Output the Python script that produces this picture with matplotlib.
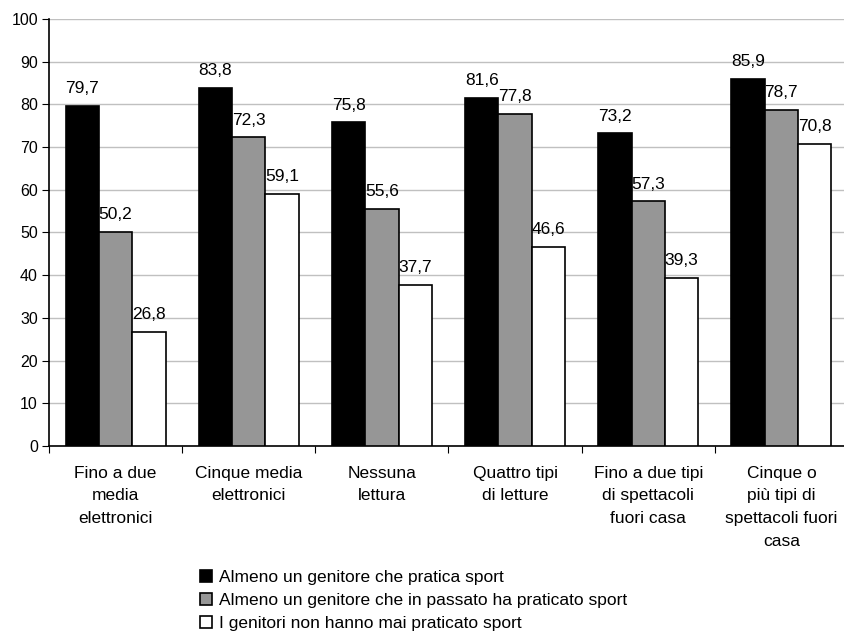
import numpy as np
import matplotlib
matplotlib.use("Agg")
import matplotlib.pyplot as plt

plt.rcParams["font.family"] = ["Liberation Sans", "DejaVu Sans"]

# ── Dati ──────────────────────────────────────────────────────────────────────
categories = [
    "Fino a due\nmedia\nelettronici",
    "Cinque media\nelettronici",
    "Nessuna\nlettura",
    "Quattro tipi\ndi letture",
    "Fino a due tipi\ndi spettacoli\nfuori casa",
    "Cinque o\npiù tipi di\nspettacoli fuori\ncasa",
]
series_names = [
    "Almeno un genitore che pratica sport",
    "Almeno un genitore che in passato ha praticato sport",
    "I genitori non hanno mai praticato sport",
]
pratica = [79.7, 83.8, 75.8, 81.6, 73.2, 85.9]
passato = [50.2, 72.3, 55.6, 77.8, 57.3, 78.7]
mai     = [26.8, 59.1, 37.7, 46.6, 39.3, 70.8]

COLORS = ["#000000", "#969696", "#ffffff"]

W, H = 844, 633
fig = plt.figure(figsize=(W / 100, H / 100), dpi=100)
ax = fig.add_axes([49 / W, (H - 446) / H, (848 - 49) / W, (446 - 19) / H])

x = np.arange(len(categories))
bw = 0.25
for i, (vals, col) in enumerate(zip([pratica, passato, mai], COLORS)):
    pos = x + (i - 1) * bw
    ax.bar(pos, vals, width=bw, color=col, edgecolor="#000000", lw=1.2,
           label=series_names[i], zorder=3)
    for px, v in zip(pos, vals):
        ax.annotate(f"{v:.1f}".replace(".", ","), xy=(px, v),
                    xytext=(0, 7), textcoords="offset points",
                    ha="center", va="bottom", fontsize=12.5)

ax.set_xlim(-0.5, len(categories) - 0.5)
ax.set_ylim(0, 100)
ax.set_yticks(range(0, 101, 10))
ax.tick_params(axis="y", labelsize=11.5, length=5, direction="out", pad=3)
ax.yaxis.grid(True, color="#c0c0c0", lw=1, zorder=0)

# tick sui bordi delle categorie, etichette centrate
ax.set_xticks(np.arange(-0.5, len(categories), 1.0))
ax.set_xticklabels([])
ax.tick_params(axis="x", length=5, direction="out")
for xi, lab in zip(x, categories):
    ax.text(xi, -4.6, lab, ha="center", va="top", fontsize=12.5,
            linespacing=1.65)

for s in ["top", "right"]:
    ax.spines[s].set_visible(False)
ax.spines["left"].set_linewidth(1.2)
ax.spines["bottom"].set_linewidth(1.2)

fig.legend(loc="upper left", bbox_to_anchor=(200 / W, 1 - 570 / H),
           frameon=False, fontsize=12.5, handlelength=0.7, handleheight=0.7,
           handletextpad=0.4, labelspacing=0.45, borderaxespad=0,
           borderpad=0)

fig.savefig("out.png", dpi=100)
